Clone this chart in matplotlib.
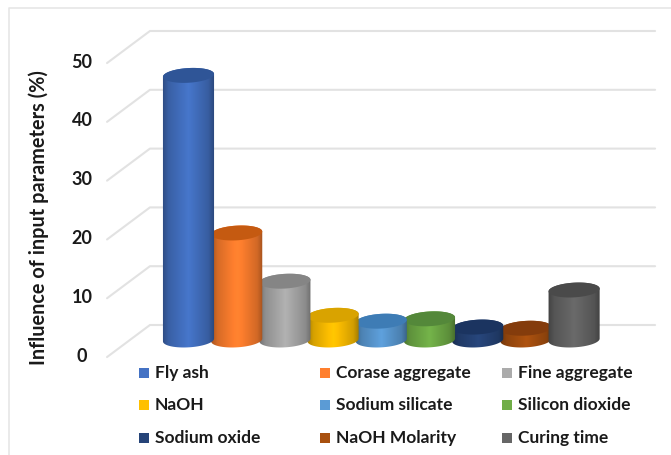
import numpy as np
import matplotlib.pyplot as plt
from matplotlib.patches import Polygon, Rectangle

plt.rcParams['font.family'] = ['Lato', 'DejaVu Sans']

categories = ['Fly ash', 'Corase aggregate', 'Fine aggregate',
              'NaOH', 'Sodium silicate', 'Silicon dioxide',
              'Sodium oxide', 'NaOH Molarity', 'Curing time']
influence = [45.0, 18.2, 10.0, 4.2, 3.2, 3.6, 2.2, 2.0, 8.5]
y_ticks = [0, 10, 20, 30, 40, 50]
side_colors = ['#4472C4', '#FF7F2E', '#ABABAB', '#FFC000', '#5B9BD5',
               '#70AD47', '#264478', '#A8500F', '#666666']
top_colors = ['#2F5597', '#C55A11', '#858585', '#D9A300', '#3E7CB5',
              '#54883A', '#1B3460', '#843C0C', '#4A4A4A']

PX_X = 48.2   # pixels per category
PX_Y = 5.88   # pixels per percent
X0, Y0 = 188.5, 340   # pixel position of the first bar's base

fig = plt.figure(figsize=(6.71, 4.55), dpi=100)
ax = fig.add_axes([0, 0, 1, 1])
ax.set_xlim(-X0 / PX_X, (671 - X0) / PX_X)
ax.set_ylim((Y0 - 455) / PX_Y, Y0 / PX_Y)
ax.axis('off')

# outer frame of the chart area
ax.plot([9 / 671, 9 / 671, 1], [0, 447 / 455, 447 / 455], color='#E6E6E6',
        lw=1.2, transform=ax.transAxes, zorder=0)

# floor-to-wall gridlines
x_front, x_back, x_right = -1.69, -0.8, 9.68
off_front, off_back = -2.9, 2.55
for v in y_ticks:
    ax.plot([x_front, x_back, x_right],
            [v + off_front, v + off_back, v + off_back],
            color='#E2E2E2', lw=1.5, zorder=1, solid_capstyle='round')
    ax.text(x_front - 0.52, v + off_front + 0.15, str(v), ha='center',
            va='center', fontsize=13, fontweight='bold', color='#1A1A1A')

ax.text(39 / 671, 237 / 455, 'Influence of input parameters (%)',
        transform=ax.transAxes, rotation=90, ha='center', va='center',
        fontsize=14.3, fontweight='bold', color='#1A1A1A')


def ellipse_arc(xc, yc, start, stop, half_w=0.53, half_h=1.25, tilt=0.45):
    t = np.linspace(start, stop, 60)
    x = half_w * np.cos(t)
    return xc + x, yc + half_h * np.sin(t) + tilt * x


def shaded_strip(color, n=80):
    rgb = np.array(plt.matplotlib.colors.to_rgb(color))
    u = np.linspace(0, 1, n)
    shade = np.interp(u, [0, 0.12, 0.5, 0.88, 1], [0.66, 0.84, 1.04, 0.82, 0.62])
    return np.clip(shade[None, :, None] * rgb[None, None, :], 0, 1)


def draw_cylinder(xc, value, side, top, z):
    bx, by = ellipse_arc(xc, 0, np.pi, 2 * np.pi)
    tx, ty = ellipse_arc(xc, value, 0, np.pi)
    outline = Polygon(np.column_stack([np.r_[bx, tx], np.r_[by, ty]]),
                      closed=True, transform=ax.transData, fc='none', ec='none')
    ax.add_patch(outline)
    body = ax.imshow(shaded_strip(side), aspect='auto', zorder=z,
                     extent=[xc - 0.54, xc + 0.54, -2, value + 2])
    body.set_clip_path(outline)
    cx, cy = ellipse_arc(xc, value, 0, 2 * np.pi)
    ax.fill(cx, cy, color=top, zorder=z + 0.5, lw=0)


# earlier bars sit in front of later ones, the last bar is on top of its neighbour
z_order = [30, 28, 26, 24, 22, 20, 18, 16, 19]
for i, value in enumerate(influence):
    draw_cylinder(i, value, side_colors[i], top_colors[i], z_order[i])

ax.set_xlim(-X0 / PX_X, (671 - X0) / PX_X)
ax.set_ylim((Y0 - 455) / PX_Y, Y0 / PX_Y)

# three-column legend under the bars
col_px = [139, 320, 502]
row_px = [373, 405, 438]
for i, name in enumerate(categories):
    px = col_px[i % 3]
    py = row_px[i // 3]
    ax.add_patch(Rectangle((px / 671, 1 - (py + 5) / 455), 10 / 671, 10 / 455,
                           transform=ax.transAxes, fc=side_colors[i], ec='none'))
    ax.text((px + 16) / 671, 1 - py / 455, name, transform=ax.transAxes,
            ha='left', va='center', fontsize=12.5, fontweight='bold', color='#1A1A1A')

fig.savefig('out.png', dpi=100)
